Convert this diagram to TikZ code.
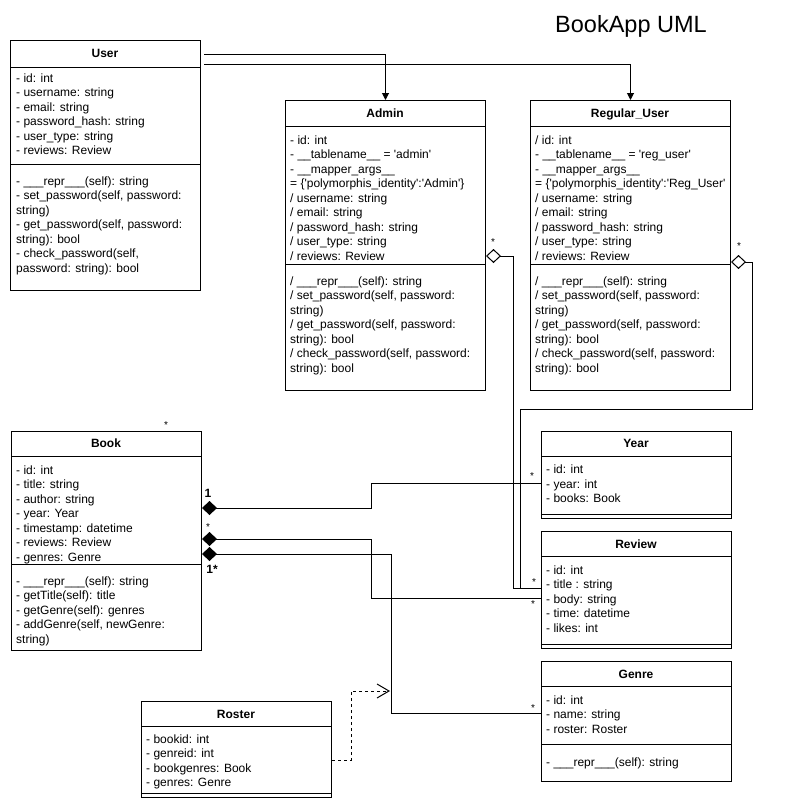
\documentclass[tikz,border=0pt]{standalone}
\usepackage{fontspec}
\newfontfamily\lib{Liberation Sans}
\usetikzlibrary{arrows.meta,calc}
\tikzset{
  box/.style={draw, line width=1pt, inner sep=0pt, anchor=north west},
  ttl/.style={font=\lib\fontsize{12}{14}\selectfont\bfseries, anchor=base, inner sep=0pt},
  txt/.style={font=\lib\fontsize{12}{14}\selectfont, anchor=base west, inner sep=0pt},
  conn/.style={draw, line width=1pt},
  mult/.style={font=\lib\fontsize{10}{12}\selectfont, inner sep=0pt},
  multb/.style={font=\lib\fontsize{12}{14}\selectfont\bfseries, inner sep=0pt},
  comp/.style={{Diamond[length=15pt,width=14pt]}-},
  aggr/.style={{Diamond[open,length=15pt,width=14pt]}-},
  gen/.style={-{Triangle[length=7pt,width=7pt]}},
  dep/.style={dash pattern=on 3pt off 3pt, -{Straight Barb[length=12pt,width=14pt,line width=1pt]}}
}
\newcommand{\umllines}[4]{%
  \foreach \tl [count=\ti] in {#4}{\node[txt] (#1\ti) at ({#2},{#3+4.3+(\ti-1)*14.5}) {\tl};}}
\begin{document}
\begin{tikzpicture}[x=1pt,y=-1pt]
\useasboundingbox (0,0) rectangle (789,809);
\fill[white] (0,0) rectangle (789,809);

\node[font=\lib\fontsize{23.5}{28}\selectfont, anchor=base, inner sep=0pt] (title) at (631,32.5) {BookApp UML};

% User
\node[box, minimum width=190pt, minimum height=250pt] (user) at (10,40) {};
\draw[line width=1pt] (10,67) -- (200,67) (10,164) -- (200,164);
\node[ttl] (user-t) at (105,57.3) {User};
\umllines{ua}{16}{78}{{- id: int},{- username: string},{- email: string},{- password\_hash: string},{- user\_type: string},{- reviews: Review}}
\umllines{um}{16}{181}{{- \_\_\_repr\_\_\_(self): string},{- set\_password(self, password:},{string)},{- get\_password(self, password:},{string): bool},{- check\_password(self,},{password: string): bool}}

% Admin
\node[box, minimum width=200pt, minimum height=290pt] (admin) at (285,100) {};
\draw[line width=1pt] (285,126) -- (485,126) (285,264) -- (485,264);
\node[ttl] (admin-t) at (385,117.3) {Admin};
\umllines{aa}{290}{140}{{- id: int},{- \_\_tablename\_\_ = 'admin'},{- \_\_mapper\_args\_\_},{= \{'polymorphis\_identity':'Admin'\}},{/ username: string},{/ email: string},{/ password\_hash: string},{/ user\_type: string},{/ reviews: Review}}
\umllines{am}{290}{281}{{/ \_\_\_repr\_\_\_(self): string},{/ set\_password(self, password:},{string)},{/ get\_password(self, password:},{string): bool},{/ check\_password(self, password:},{string): bool}}

% Regular_User
\node[box, minimum width=200pt, minimum height=290pt] (reg) at (530,100) {};
\draw[line width=1pt] (530,126) -- (730,126) (530,264) -- (730,264);
\node[ttl] (reg-t) at (630,117.3) {Regular\_User};
\umllines{ra}{535}{140}{{/ id: int},{- \_\_tablename\_\_ = 'reg\_user'},{- \_\_mapper\_args\_\_},{= \{'polymorphis\_identity':'Reg\_User'},{/ username: string},{/ email: string},{/ password\_hash: string},{/ user\_type: string},{/ reviews: Review}}
\umllines{rm}{535}{281}{{/ \_\_\_repr\_\_\_(self): string},{/ set\_password(self, password:},{string)},{/ get\_password(self, password:},{string): bool},{/ check\_password(self, password:},{string): bool}}

% Book
\node[box, minimum width=190pt, minimum height=219pt] (book) at (11,431) {};
\draw[line width=1pt] (11,456) -- (201,456) (11,564) -- (201,564);
\node[ttl] (book-t) at (106,447.3) {Book};
\umllines{ba}{16}{470}{{- id: int},{- title: string},{- author: string},{- year: Year},{- timestamp: datetime},{- reviews: Review},{- genres: Genre}}
\umllines{bm}{16}{581}{{- \_\_\_repr\_\_\_(self): string},{- getTitle(self): title},{- getGenre(self): genres},{- addGenre(self, newGenre:},{string)}}

% Year
\node[box, minimum width=190pt, minimum height=87pt] (year) at (541,431) {};
\draw[line width=1pt] (541,456) -- (731,456) (541,514) -- (731,514);
\node[ttl] (year-t) at (636,447.8) {Year};
\umllines{ya}{546}{469.5}{{- id: int},{- year: int},{- books: Book}}

% Review
\node[box, minimum width=190pt, minimum height=117pt] (review) at (541,531) {};
\draw[line width=1pt] (541,556) -- (731,556) (541,644) -- (731,644);
\node[ttl] (review-t) at (636,548) {Review};
\umllines{va}{546}{570}{{- id: int},{- title : string},{- body: string},{- time: datetime},{- likes: int}}

% Genre
\node[box, minimum width=190pt, minimum height=120pt] (genre) at (541,661) {};
\draw[line width=1pt] (541,686) -- (731,686) (541,744) -- (731,744);
\node[ttl] (genre-t) at (636,678) {Genre};
\umllines{ga}{546}{700}{{- id: int},{- name: string},{- roster: Roster}}
\umllines{gm}{546}{762}{{- \_\_\_repr\_\_\_(self): string}}

% Roster
\node[box, minimum width=190pt, minimum height=96pt] (roster) at (141,701) {};
\draw[line width=1pt] (141,726) -- (331,726) (141,793) -- (331,793);
\node[ttl] (roster-t) at (236,718) {Roster};
\umllines{oa}{146}{739}{{- bookid: int},{- genreid: int},{- bookgenres: Book},{- genres: Genre}}

% connector end points
\coordinate (u1) at ($(user.north east)+(3,14)$);
\coordinate (u2) at ($(user.north east)+(3,24)$);
\coordinate (ad1) at ($(admin.north east)+(0,156)$);
\coordinate (rg1) at ($(reg.north east)+(0,162)$);
\coordinate (b1) at ($(book.north east)+(0,77)$);
\coordinate (b2) at ($(book.north east)+(0,108)$);
\coordinate (b3) at ($(book.north east)+(0,123)$);
\coordinate (yr1) at ($(year.north west)+(0,52)$);
\coordinate (rv1) at ($(review.north west)+(0,57)$);
\coordinate (rv2) at ($(review.north west)+(0,67)$);
\coordinate (gn1) at ($(genre.north west)+(0,52)$);
\coordinate (ro1) at ($(roster.north east)+(0,59)$);
\coordinate (gtar) at ($(b3)+(188,137)$);

% generalisation
\draw[conn, gen] (u1) -| (admin.north);
\draw[conn, gen] (u2) -| (reg.north);

% aggregations to Review
\draw[conn, aggr] (ad1) -| ($(rv1)+(-28,0)$) -- (rv1);
\draw[conn, aggr] (rg1) -- ++(21,0) -- ++(0,147) -| ($(rv1)+(-21,0)$) -- (rv1);

% compositions from Book
\draw[conn, comp] (b1) -- ++(169,0) |- (yr1);
\draw[conn, comp] (b2) -- ++(169,0) |- (rv2);
\draw[conn, comp] (b3) -- ++(189,0) |- (gn1);

% dependency
\draw[conn, dep] (ro1) -- ++(19,0) |- (gtar);

% multiplicities
\node[mult] (m-book) at (166,425) {*};
\node[mult] (m-adm) at (493,242) {*};
\node[mult] (m-reg) at (739,246) {*};
\node[multb] (m-b1) at (208,493) {1};
\node[mult] (m-b2) at (208,527) {*};
\node[multb] (m-b3) at (212,569) {1*};
\node[mult] (m-yr) at (532,476) {*};
\node[mult] (m-rv1) at (534,582) {*};
\node[mult] (m-rv2) at (533,604) {*};
\node[mult] (m-gn) at (533,708) {*};
\end{tikzpicture}
\end{document}
